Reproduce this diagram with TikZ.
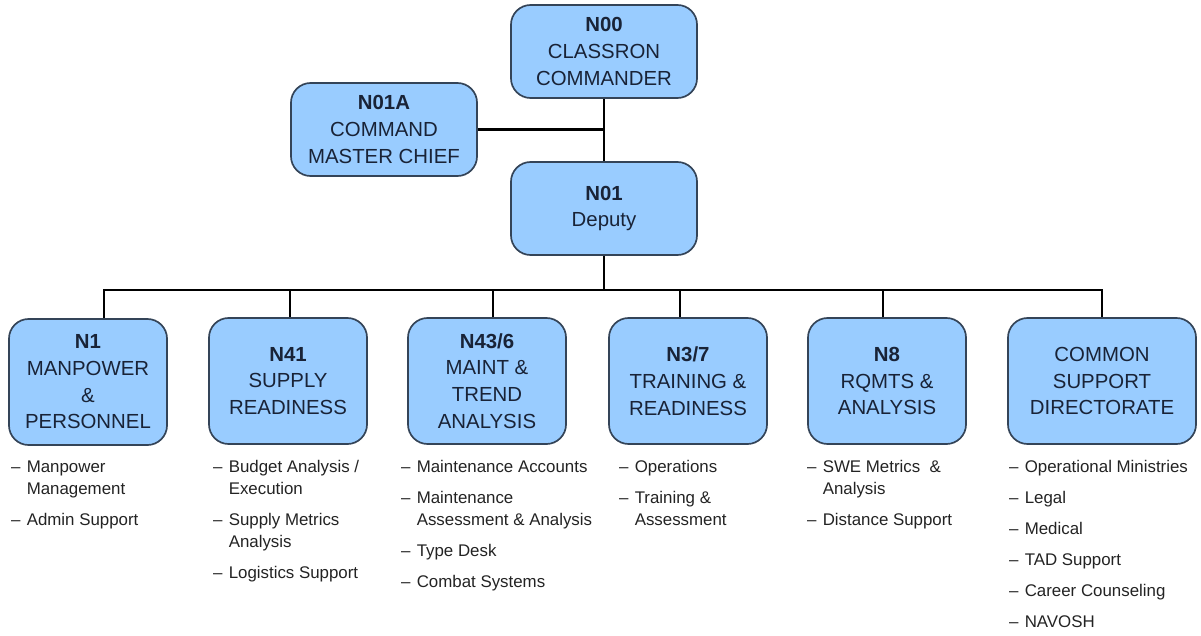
\documentclass[tikz,border=0pt]{standalone}
\usepackage{fontspec}
\setmainfont{Liberation Sans}
\usetikzlibrary{positioning}

\definecolor{boxblue}{RGB}{153,204,255}
\definecolor{boxline}{RGB}{52,68,88}
\definecolor{boxtext}{RGB}{25,35,55}
\definecolor{listtext}{RGB}{35,35,35}

% bullet list under a unit box
\newcommand{\tasks}[1]{\begin{tabular}[t]{@{}l@{\hspace{4.5pt}}l@{}}#1\end{tabular}}
\newcommand{\gap}{\\[6.4pt]}

\begin{document}
\begin{tikzpicture}[x=0.025cm,y=-0.025cm,line width=1.5pt,
box/.style={draw=boxline,fill=boxblue,rounded corners=14pt,line width=1.2pt,align=center,text=boxtext,inner sep=0pt,font=\fontsize{14.5}{19}\selectfont},
topbox/.style={box,minimum width=4.65cm,minimum height=2.325cm},
unitbox/.style={box,minimum width=3.95cm,minimum height=3.15cm},
tasklist/.style={anchor=base west,inner sep=0pt,text=listtext,font=\fontsize{12}{15.6}\selectfont}]
\useasboundingbox (0,0) rectangle (1201,636);

\node[topbox] (n00) at (604,51.5) {\textbf{N00}\\CLASSRON\\COMMANDER};
\node[topbox] (n01a) at (384,129.5) {\textbf{N01A}\\COMMAND\\MASTER CHIEF};
\node[topbox] (n01) at (604,208.5) {\textbf{N01}\\Deputy};

\node[unitbox] (n1) at (88,382) {\textbf{N1}\\MANPOWER\\\&\\PERSONNEL};
\node[unitbox] (n41) at (288,381) {\textbf{N41}\\SUPPLY\\READINESS};
\node[unitbox] (n436) at (487,381) {\textbf{N43/6}\\MAINT \&\\TREND\\ANALYSIS};
\node[unitbox] (n37) at (688,381) {\textbf{N3/7}\\TRAINING \&\\READINESS};
\node[unitbox] (n8) at (887,381) {\textbf{N8}\\RQMTS \&\\ANALYSIS};
\node[unitbox,minimum width=4.7cm] (csd) at (1102,381) {COMMON\\SUPPORT\\DIRECTORATE};

\coordinate (bus) at (604,290);

\draw (n00) -- (n01);
\draw (n01a) -- (n01a -| n00);
\draw (n01) -- (bus);
\draw ([xshift=11.4pt]n1.north) |- (bus);
\draw ([xshift=1.4pt]n41.north) |- (bus);
\draw ([xshift=4.3pt]n436.north) |- (bus);
\draw ([xshift=-5.7pt]n37.north) |- (bus);
\draw ([xshift=-2.8pt]n8.north) |- (bus);
\draw (csd.north) |- (bus);

\node[tasklist] (t1) at (10,472.5) {\tasks{\textendash & Manpower\\ & Management\gap \textendash & Admin Support}};
\node[tasklist] (t41) at (212,472.5) {\tasks{\textendash & Budget Analysis /\\ & Execution\gap \textendash & Supply Metrics\\ & Analysis\gap \textendash & Logistics Support}};
\node[tasklist] (t436) at (400,472.5) {\tasks{\textendash & Maintenance Accounts\gap \textendash & Maintenance\\ & Assessment \& Analysis\gap \textendash & Type Desk\gap \textendash & Combat Systems}};
\node[tasklist] (t37) at (618,472.5) {\tasks{\textendash & Operations\gap \textendash & Training \&\\ & Assessment}};
\node[tasklist] (t8) at (806,472.5) {\tasks{\textendash & SWE Metrics\ \ \&\\ & Analysis\gap \textendash & Distance Support}};
\node[tasklist] (tcsd) at (1008,472.5) {\tasks{\textendash & Operational Ministries\gap \textendash & Legal\gap \textendash & Medical\gap \textendash & TAD Support\gap \textendash & Career Counseling\gap \textendash & NAVOSH}};
\end{tikzpicture}
\end{document}
